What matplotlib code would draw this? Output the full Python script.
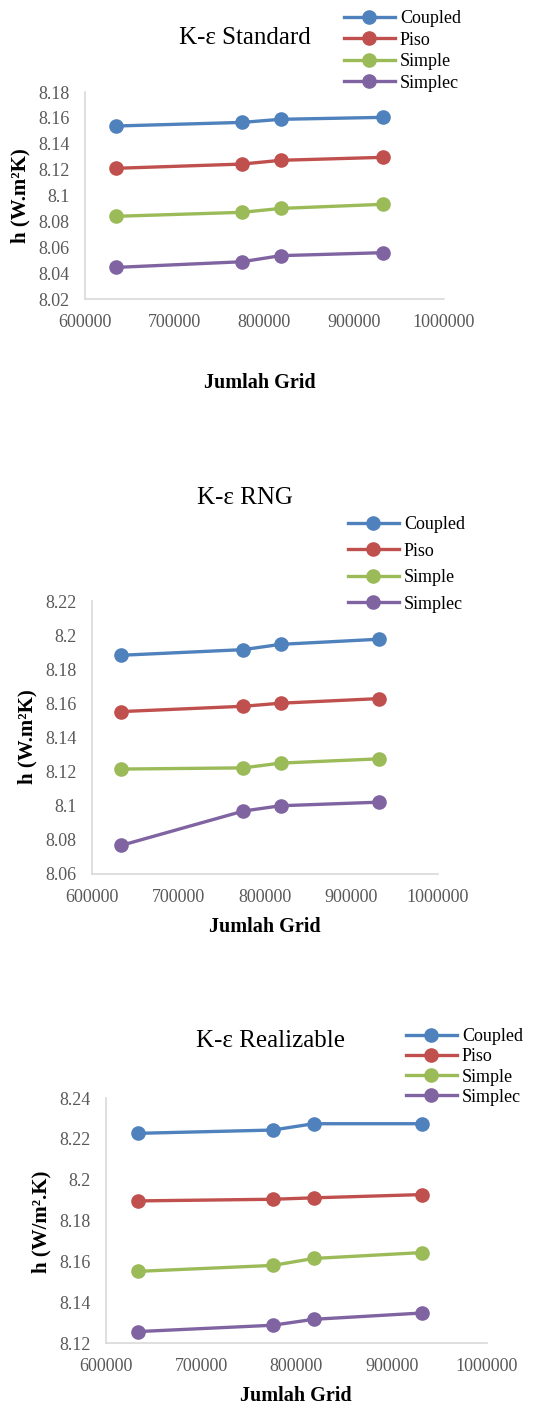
import numpy as np
import matplotlib
matplotlib.use("Agg")
import matplotlib.pyplot as plt

plt.rcParams['font.family'] = ['Liberation Serif', 'DejaVu Serif']

W, H = 543, 1404

grid = [634000, 775000, 818000, 932000]
series_names = ['Coupled', 'Piso', 'Simple', 'Simplec']
colors = ['#4F81BD', '#C0504D', '#9BBB59', '#8064A2']

std_coupled = [8.1537, 8.1565, 8.1589, 8.1604]
std_piso = [8.1210, 8.1243, 8.1272, 8.1295]
std_simple = [8.0839, 8.0870, 8.0900, 8.0932]
std_simplec = [8.0444, 8.0488, 8.0535, 8.0558]

rng_coupled = [8.1882, 8.1915, 8.1946, 8.1976]
rng_piso = [8.1552, 8.1583, 8.1601, 8.1628]
rng_simple = [8.1215, 8.1222, 8.1250, 8.1275]
rng_simplec = [8.0768, 8.0969, 8.1000, 8.1021]

rlz_coupled = [8.2227, 8.2243, 8.2274, 8.2274]
rlz_piso = [8.1896, 8.1904, 8.1911, 8.1927]
rlz_simple = [8.1551, 8.1580, 8.1614, 8.1643]
rlz_simplec = [8.1256, 8.1287, 8.1316, 8.1347]


def fx(px):
    return px / W


def fy(py):
    return 1 - py / H


def panel(fig, box, data, ylim, title, title_xy, ylabel, ylabel_xy,
          xlabel_xy, legend_xy, labelspacing):
    l, t, r, b = box
    ax = fig.add_axes([fx(l), fy(b), fx(r) - fx(l), fy(t) - fy(b)])
    for vals, name, c in zip(data, series_names, colors):
        ax.plot(grid, vals, color=c, lw=2.4, marker='o', ms=9.5, label=name)
    ax.set_xlim(600000, 1000000)
    ax.set_xticks(np.arange(600000, 1000001, 100000))
    ax.set_ylim(*ylim)
    ax.set_yticks(np.arange(ylim[0], ylim[1] + 1e-9, 0.02))
    ax.yaxis.set_major_formatter(plt.FuncFormatter(lambda v, p: ('%.2f' % v).rstrip('0').rstrip('.')))
    ax.xaxis.set_major_formatter(plt.FuncFormatter(lambda v, p: '%d' % v))
    ax.tick_params(length=0, labelsize=13, labelcolor='#595959')
    ax.tick_params(axis='y', pad=11)
    ax.tick_params(axis='x', pad=11)
    for s in ['top', 'right']:
        ax.spines[s].set_visible(False)
    for s in ['left', 'bottom']:
        ax.spines[s].set_color('#D9D9D9')
        ax.spines[s].set_linewidth(1.2)
    fig.text(fx(title_xy[0]), fy(title_xy[1]), title, ha='center', va='center', fontsize=18)
    fig.text(fx(ylabel_xy[0]), fy(ylabel_xy[1]), ylabel, ha='center', va='center',
             rotation=90, fontsize=15, fontweight='bold')
    fig.text(fx(xlabel_xy[0]), fy(xlabel_xy[1]), 'Jumlah Grid', ha='center', va='center',
             fontsize=14.5, fontweight='bold')
    ax.legend(loc='upper left', bbox_to_anchor=(fx(legend_xy[0]), fy(legend_xy[1])),
              bbox_transform=fig.transFigure, frameon=False, fontsize=13,
              handlelength=2.8, handletextpad=0.3, labelspacing=labelspacing,
              borderpad=0, borderaxespad=0)
    return ax


fig = plt.figure(figsize=(W / 100, H / 100), dpi=100)

panel(fig, (85, 92, 444, 299),
      [std_coupled, std_piso, std_simple, std_simplec], (8.02, 8.18),
      'K-\u03b5 Standard', (245, 38), 'h (W.m\u00b2K)', (20, 196),
      (260, 383), (344, 10), 0.25)

panel(fig, (92, 601, 438, 874),
      [rng_coupled, rng_piso, rng_simple, rng_simplec], (8.06, 8.22),
      'K-\u03b5 RNG', (245, 498), 'h (W.m\u00b2K)', (27, 737),
      (265, 927), (348, 516), 0.53)

panel(fig, (106, 1098, 487, 1343),
      [rlz_coupled, rlz_piso, rlz_simple, rlz_simplec], (8.12, 8.24),
      'K-\u03b5 Realizable', (270, 1041), 'h (W/m\u00b2.K)', (41, 1222),
      (296, 1396), (406, 1028), 0.18)

fig.savefig('out.png', dpi=100)
